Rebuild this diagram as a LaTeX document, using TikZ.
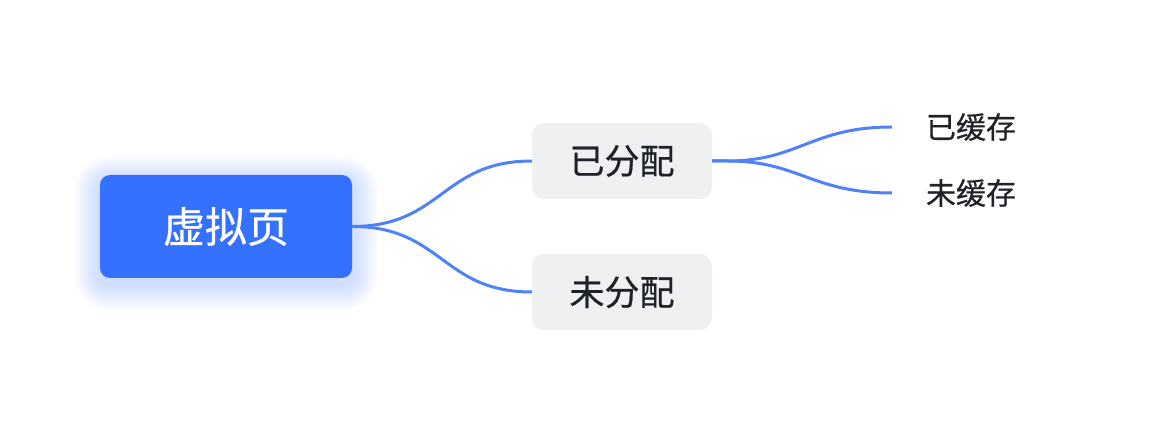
\documentclass[tikz,border=0pt]{standalone}
\usepackage{fontspec}
\newfontfamily\cjk[FakeBold=0.6]{Noto Sans CJK SC}
\usetikzlibrary{positioning}

\definecolor{rootblue}{HTML}{3471FF}
\definecolor{linkblue}{HTML}{4F82F8}
\definecolor{subgray}{HTML}{EFF0F2}
\definecolor{textdark}{HTML}{1F2329}

\tikzset{
  rootbox/.style={rounded corners=10pt, fill=rootblue, text=white,
    minimum width=252pt, minimum height=103pt, inner sep=0pt,
    font=\cjk\fontsize{42pt}{50pt}\selectfont},
  subbox/.style={rounded corners=12pt, fill=subgray, text=textdark,
    minimum width=180pt, minimum height=76pt, inner sep=0pt,
    font=\cjk\fontsize{35pt}{42pt}\selectfont},
  leaf/.style={text=textdark, inner xsep=34pt, inner ysep=0pt,
    font=\cjk\fontsize{30pt}{36pt}\selectfont},
  link/.style={draw=linkblue, line width=3pt},
  glow/.style={fill=rootblue, opacity=0.011}
}

\begin{document}
\begin{tikzpicture}[x=1pt, y=-1pt]
  \useasboundingbox (0,0) rectangle (1152,430);
  % soft glow under the root
  \foreach \i in {1,...,22}
    \fill[glow, rounded corners={10+1.2*\i}] ({100-1.2*\i},{182-1.2*\i}) rectangle ({352+1.2*\i},{284+1.2*\i});
  % nodes
  \node[rootbox] (root) at (226,226.5) {虚拟页};
  \node[subbox] (alloc) at (622,161) {已分配};
  \node[subbox] (unalloc) at (622,292) {未分配};
  \node[leaf] (cached) at (971,127) {已缓存};
  \node[leaf] (uncached) at (971,193) {未缓存};
  % links
  \draw[link] (root.east) .. controls +(90,0) and +(-90,0) .. (alloc.west);
  \draw[link] (root.east) .. controls +(90,0) and +(-90,0) .. (unalloc.west);
  \draw[link] (alloc.east) -- ++(16,0) .. controls +(70,0) and +(-80,0) .. (cached.west);
  \draw[link] (alloc.east) -- ++(16,0) .. controls +(70,0) and +(-80,0) .. (uncached.west);
\end{tikzpicture}
\end{document}
